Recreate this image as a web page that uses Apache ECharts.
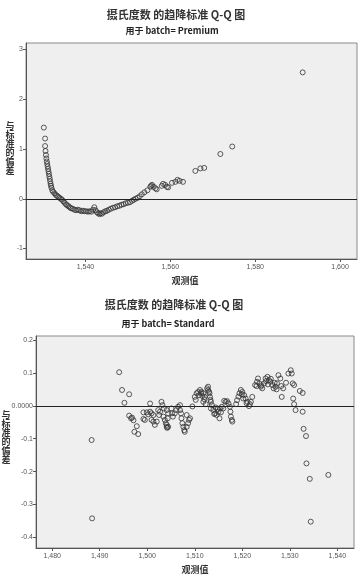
<!DOCTYPE html>
<html>
<head>
<meta charset="utf-8">
<script src="https://cdn.jsdelivr.net/npm/echarts@6/dist/echarts.min.js"></script>
<style>
html,body{margin:0;padding:0;background:#fff;}
#c{width:359px;height:578px;}
</style>
</head>
<body>
<div id="c"></div>
<script>
// ---- Titles ----
var mainTitle = '摄氏度数 的趋降标准 Q-Q 图';
var subTitleA = '用于 batch= Premium';
var subTitleB = '用于 batch= Standard';
var yName = '与标准的偏差';
var xName = '观测值';

// ---- Premium: [observed value, deviation from normal] ----
var premiumObserved = [1530.2,1530.5,1530.5,1530.6,1530.7,1530.8,1530.9,1531.0,1531.1,1531.2,1531.3,1531.4,1531.5,1531.6,1531.7,1531.8,1531.9,1532.0,1532.2,1532.4,1532.7,1533.0,1533.3,1533.6,1533.9,1534.2,1534.5,1534.8,1535.1,1535.4,1535.7,1536.0,1536.3,1536.6,1537.0,1537.4,1537.8,1538.2,1538.6,1539.0,1539.4,1539.8,1540.2,1540.6,1541.0,1541.4,1541.8,1542.1,1542.4,1542.7,1543.0,1543.3,1543.6,1543.9,1544.3,1544.7,1545.1,1545.5,1546.0,1546.5,1547.0,1547.5,1548.0,1548.5,1549.0,1549.5,1550.0,1550.5,1551.0,1551.4,1551.8,1552.3,1552.8,1553.3,1553.9,1554.6,1555.3,1555.5,1555.7,1556.1,1556.5,1556.8,1558.0,1558.3,1558.8,1559.2,1559.5,1560.4,1561.2,1561.7,1562.2,1563.0,1565.9,1567.1,1568.0,1571.8,1574.6,1591.2];
var premiumDeviation = [1.43,1.21,1.06,0.96,0.88,0.81,0.75,0.70,0.65,0.60,0.55,0.50,0.45,0.40,0.35,0.30,0.26,0.22,0.17,0.14,0.11,0.08,0.06,0.04,0.02,0.00,-0.02,-0.05,-0.08,-0.11,-0.13,-0.15,-0.17,-0.19,-0.20,-0.22,-0.23,-0.22,-0.23,-0.25,-0.24,-0.25,-0.25,-0.26,-0.25,-0.26,-0.22,-0.17,-0.23,-0.27,-0.29,-0.31,-0.29,-0.30,-0.27,-0.25,-0.24,-0.22,-0.20,-0.18,-0.17,-0.15,-0.14,-0.12,-0.11,-0.09,-0.08,-0.07,-0.04,-0.02,0.00,0.02,0.05,0.09,0.13,0.17,0.24,0.26,0.28,0.24,0.21,0.19,0.26,0.30,0.28,0.24,0.23,0.32,0.34,0.38,0.36,0.34,0.56,0.61,0.62,0.90,1.05,2.54];

// ---- Standard: [observed value, deviation from normal] ----
var standardObserved = [1488.3,1488.4,1494.1,1494.7,1495.2,1496.2,1496.2,1496.6,1496.8,1497.1,1497.3,1497.8,1498.1,1499.2,1499.2,1499.5,1499.9,1500.2,1500.6,1500.6,1500.9,1500.9,1501.3,1501.3,1501.6,1502.0,1502.3,1502.5,1502.7,1503.0,1503.2,1503.4,1503.5,1503.7,1503.9,1504.1,1504.2,1504.1,1504.4,1504.3,1504.1,1504.4,1505.1,1505.2,1505.4,1505.8,1506.1,1506.5,1506.9,1506.9,1507.1,1507.2,1507.4,1507.6,1507.8,1507.9,1508.3,1508.3,1508.6,1508.8,1509.0,1509.5,1510.0,1510.2,1510.4,1510.7,1510.9,1511.1,1511.3,1511.4,1511.6,1511.8,1511.8,1512.0,1512.1,1512.3,1512.6,1512.8,1512.8,1513.0,1513.1,1513.2,1513.3,1513.4,1513.4,1513.6,1513.9,1514.1,1514.3,1514.4,1514.6,1514.8,1515.0,1515.2,1515.3,1515.5,1515.7,1516.0,1516.2,1516.5,1516.8,1517.1,1517.4,1517.5,1517.6,1517.8,1517.9,1518.7,1518.9,1519.2,1519.4,1519.7,1519.9,1520.0,1520.2,1520.4,1520.7,1520.9,1521.1,1521.4,1521.6,1521.8,1522.1,1522.7,1523.0,1523.1,1523.3,1523.6,1523.9,1524.0,1524.2,1524.6,1524.9,1525.0,1525.3,1525.4,1525.6,1525.9,1526.0,1526.3,1526.6,1526.8,1527.0,1527.2,1527.3,1527.6,1528.0,1528.2,1528.3,1528.6,1529.2,1529.7,1530.2,1530.4,1530.6,1530.9,1530.7,1530.9,1531.2,1532.1,1532.7,1532.7,1532.9,1533.4,1533.5,1534.2,1534.4,1538.1];
var standardDeviation = [-0.104,-0.342,0.102,0.048,0.009,0.035,-0.030,-0.038,-0.036,-0.044,-0.079,-0.062,-0.086,-0.020,-0.040,-0.043,-0.020,-0.026,0.007,-0.018,-0.023,-0.043,-0.028,-0.048,-0.058,-0.048,-0.013,-0.028,-0.018,0.012,0.002,-0.033,-0.008,-0.043,-0.053,-0.064,-0.067,-0.013,-0.023,-0.038,-0.058,-0.064,-0.008,-0.023,-0.033,-0.023,-0.013,-0.003,0.002,-0.013,-0.023,-0.038,-0.053,-0.064,-0.074,-0.079,-0.064,-0.028,-0.053,-0.043,-0.038,-0.002,0.027,0.018,0.038,0.042,0.032,0.048,0.038,0.042,0.030,0.038,0.012,0.020,0.027,0.005,0.053,0.058,0.048,0.043,0.038,0.027,0.018,0.012,-0.008,0.002,-0.013,-0.025,-0.023,-0.005,-0.028,-0.010,-0.018,-0.038,-0.008,-0.020,-0.003,-0.008,0.015,0.012,0.014,0.007,-0.003,-0.018,-0.033,-0.043,-0.048,0.005,0.017,0.028,0.038,0.048,0.035,0.042,0.022,0.032,0.022,0.008,0.012,-0.001,0.005,0.012,0.027,0.063,0.060,0.073,0.083,0.068,0.058,0.062,0.053,0.068,0.083,0.075,0.088,0.065,0.078,0.073,0.082,0.063,0.053,0.070,0.058,0.050,0.068,0.093,0.083,0.060,0.027,0.053,0.070,0.098,0.108,0.098,0.068,0.063,0.022,0.005,-0.013,0.045,0.039,-0.018,-0.070,-0.092,-0.175,-0.222,-0.352,-0.210];

// ---- Axis ticks ----
var premiumXTicks = [1540,1560,1580,1600];
var premiumYTicks = [-1,0,1,2,3];
var standardXTicks = [1480,1490,1500,1510,1520,1530,1540];
var standardYTicks = [-0.4,-0.3,-0.2,-0.1,0,0.1,0.2];

function pairs(xs, ys){ return xs.map(function(x,i){ return [x, ys[i]]; }); }
function thousands(v){ return String(Math.round(v)).replace(/\B(?=(\d{3})+(?!\d))/g, ','); }

var chart = echarts.init(document.getElementById('c'), null, {renderer:'canvas'});

var labelStyle = {color:'#555', fontSize:7, fontFamily:'Arial, Liberation Sans, sans-serif'};
function xAxisCfg(idx, min, max, ticks){
  return {
    type:'value', gridIndex:idx, min:min, max:max,
    axisLine:{show:true, onZero:false, lineStyle:{color:'#555', width:1}},
    axisTick:{show:true, inside:false, length:3, customValues:ticks, lineStyle:{color:'#555'}},
    axisLabel:Object.assign({customValues:ticks, margin:5, formatter:function(v){return thousands(v);}}, labelStyle),
    splitLine:{show:false}
  };
}
function yAxisCfg(idx, min, max, ticks, fmt){
  return {
    type:'value', gridIndex:idx, min:min, max:max,
    axisLine:{show:true, onZero:false, lineStyle:{color:'#555', width:1}},
    axisTick:{show:true, inside:false, length:3, customValues:ticks, lineStyle:{color:'#555'}},
    axisLabel:Object.assign({customValues:ticks, margin:3, formatter:fmt}, labelStyle),
    splitLine:{show:false}
  };
}
var pointStyle = {color:'rgba(0,0,0,0)', borderColor:'#333', borderWidth:1};
var refLine = {
  silent:true, symbol:['none','none'], label:{show:false},
  lineStyle:{color:'#222', width:1, type:'solid'},
  data:[{yAxis:0}]
};

var textFont = 'Noto Sans CJK SC, sans-serif';

function verticalName(cx, cy){
  var chars = yName.split('');
  return chars.map(function(ch, i){
    return {type:'text', silent:true, style:{x:cx, y:cy + (i - (chars.length-1)/2)*9, text:ch, textAlign:'center', textVerticalAlign:'middle', font:'bold 9px '+textFont, fill:'#333'}};
  });
}

var graphics = [
  {type:'text', style:{x:176, y:15, text:mainTitle, textAlign:'center', textVerticalAlign:'middle', font:'bold 11px '+textFont, fill:'#333'}},
  {type:'text', style:{x:172, y:31, text:subTitleA, textAlign:'center', textVerticalAlign:'middle', font:'bold 9px '+textFont, fill:'#222'}},
  {type:'text', style:{x:185, y:281, text:xName, textAlign:'center', textVerticalAlign:'middle', font:'bold 9px '+textFont, fill:'#333'}},
  {type:'text', style:{x:174, y:305, text:mainTitle, textAlign:'center', textVerticalAlign:'middle', font:'bold 11px '+textFont, fill:'#333'}},
  {type:'text', style:{x:168, y:324, text:subTitleB, textAlign:'center', textVerticalAlign:'middle', font:'bold 9px '+textFont, fill:'#222'}},
  {type:'text', style:{x:195, y:570, text:xName, textAlign:'center', textVerticalAlign:'middle', font:'bold 9px '+textFont, fill:'#333'}}
].concat(verticalName(10, 148)).concat(verticalName(6, 437));

chart.setOption({
  animation:false,
  backgroundColor:'#ffffff',
  grid:[
    {left:26, top:43, width:331, height:216, show:true, backgroundColor:'#efefef', borderColor:'#8a8a8a', borderWidth:1},
    {left:36, top:336, width:318, height:212, show:true, backgroundColor:'#efefef', borderColor:'#8a8a8a', borderWidth:1}
  ],
  xAxis:[
    xAxisCfg(0, 1526, 1604, premiumXTicks),
    xAxisCfg(1, 1476.6, 1543.5, standardXTicks)
  ],
  yAxis:[
    yAxisCfg(0, -1.21, 3.13, premiumYTicks, function(v){return String(Math.round(v));}),
    yAxisCfg(1, -0.432, 0.212, standardYTicks, function(v){return Math.abs(v)<1e-9 ? '0.0000' : v.toFixed(1);})
  ],
  series:[
    {type:'scatter', xAxisIndex:0, yAxisIndex:0, data:pairs(premiumObserved, premiumDeviation),
     symbol:'circle', symbolSize:5, itemStyle:pointStyle, markLine:refLine, z:3},
    {type:'scatter', xAxisIndex:1, yAxisIndex:1, data:pairs(standardObserved, standardDeviation),
     symbol:'circle', symbolSize:5, itemStyle:pointStyle, markLine:refLine, z:3}
  ],
  graphic:graphics
});
</script>
</body>
</html>
